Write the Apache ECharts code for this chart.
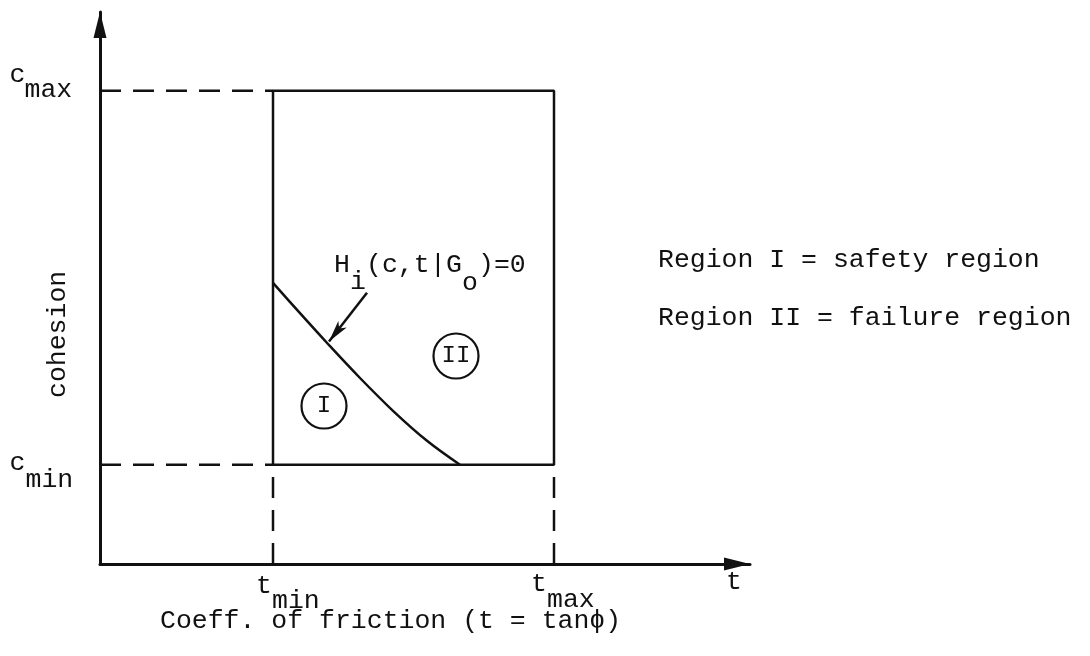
<!DOCTYPE html>
<html>
<head>
<meta charset="utf-8">
<script src="https://cdn.jsdelivr.net/npm/echarts@6/dist/echarts.min.js"></script>
<style>
  html, body { margin: 0; padding: 0; background: #fff; }
  #chart { width: 1090px; height: 656px; }
</style>
</head>
<body>
<div id="chart"></div>
<script>
// Bounds of the parameter box
const tBounds = [0.346, 0.908];   // t_min, t_max
const cBounds = [0.248, 1.183];   // c_min, c_max
const axisMax = [1.30, 1.38];     // extent of the t and c axes

// Limit-state curve H_i(c,t|G_o)=0
const curveT = [0.346, 0.400, 0.456, 0.520, 0.586, 0.654, 0.720];
const curveC = [0.703, 0.627, 0.550, 0.465, 0.383, 0.308, 0.248];

// Leader arrow from the curve label to the curve
const pointerT = [0.534, 0.458];
const pointerC = [0.678, 0.556];

// Circled region markers
const regionNames = ['I', 'II'];
const regionT = [0.448, 0.712];
const regionC = [0.395, 0.520];

// Text
const axisTitles = ['t', 'cohesion', 'Coeff. of friction (t = tan\u03D5)'];
const boundLabels = [['c', 'max'], ['c', 'min'], ['t', 'min'], ['t', 'max']];
const curveLabel = ['H', 'i', '(c,t', '|', 'G', 'o', ')=0'];
const legendLines = ['Region I = safety region', 'Region II = failure region'];

const INK = '#111';
const FONT = '"Liberation Mono", "DejaVu Sans Mono", monospace';
const FS = 26.5;

const chart = echarts.init(document.getElementById('chart'), null, { renderer: 'canvas' });

const box = [
  [tBounds[0], cBounds[0]], [tBounds[1], cBounds[0]],
  [tBounds[1], cBounds[1]], [tBounds[0], cBounds[1]], [tBounds[0], cBounds[0]]
];
const guides = [
  [[0, cBounds[1]], [tBounds[0], cBounds[1]]],
  [[0, cBounds[0]], [tBounds[0], cBounds[0]]],
  [[tBounds[0], 0], [tBounds[0], cBounds[0]]],
  [[tBounds[1], 0], [tBounds[1], cBounds[0]]]
];

function axisCfg(max) {
  return {
    type: 'value', min: 0, max: max,
    axisLine: {
      show: true, onZero: false,
      symbol: ['none', 'triangle'], symbolSize: [13, 26], symbolOffset: [0, -13],
      lineStyle: { color: INK, width: 3 }
    },
    axisTick: { show: false }, axisLabel: { show: false }, splitLine: { show: false }
  };
}

const series = [];
guides.forEach(function (seg) {
  series.push({
    type: 'line', data: seg, symbol: 'none', silent: true, z: 2,
    lineStyle: { color: INK, width: 2.5, type: [21, 12] }
  });
});
series.push({
  type: 'line', data: box, symbol: 'none', silent: true, z: 3,
  lineStyle: { color: INK, width: 2.5 }
});
series.push({
  type: 'line', symbol: 'none', silent: true, z: 3, smooth: 0.35,
  data: curveT.map(function (t, i) { return [t, curveC[i]]; }),
  lineStyle: { color: INK, width: 2.5 },
  markLine: {
    silent: true, animation: false,
    symbol: ['none', 'arrow'], symbolSize: [8, 22],
    label: { show: false },
    lineStyle: { color: INK, width: 2.5, type: 'solid' },
    data: [[{ coord: [pointerT[0], pointerC[0]] }, { coord: [pointerT[1], pointerC[1]] }]]
  }
});
series.push({
  type: 'scatter', silent: true, z: 4,
  symbol: 'circle', symbolSize: 45,
  itemStyle: { color: '#fff', borderColor: INK, borderWidth: 2.2, opacity: 1 },
  label: {
    show: true, position: 'inside', color: INK,
    fontFamily: FONT, fontSize: 24,
    formatter: function (p) { return p.data[2]; }
  },
  data: regionNames.map(function (n, i) { return [regionT[i], regionC[i], n]; })
});

chart.setOption({
  animation: false,
  backgroundColor: '#fff',
  grid: { left: 100, right: 340, top: 12, bottom: 92 },
  xAxis: axisCfg(axisMax[0]),
  yAxis: axisCfg(axisMax[1]),
  series: series
});

function px(t, c) { return chart.convertToPixel({ gridIndex: 0 }, [t, c]); }
function text(x, y, s, extra) {
  const el = {
    type: 'text', x: x, y: y, silent: true, z: 10,
    style: {
      text: s, font: FS + 'px ' + FONT, fill: INK,
      textAlign: 'left', textVerticalAlign: 'middle',
      align: 'left', verticalAlign: 'middle'
    }
  };
  if (extra) {
    if (extra.align) {
      el.style.textAlign = extra.align; el.style.align = extra.align;
    }
    if (extra.rotation) el.rotation = extra.rotation;
  }
  return el;
}

const g = [];
const o = px(0, 0);
const pcMax = px(0, cBounds[1]);
const pcMin = px(0, cBounds[0]);
const ptMin = px(tBounds[0], 0);
const ptMax = px(tBounds[1], 0);
const pEnd = px(axisMax[0], 0);
const pCurve = px(curveT[0], curveC[0]);

// c_max, c_min beside the vertical axis
g.push(text(pcMax[0] - 90.5, pcMax[1] - 16, boundLabels[0][0]));
g.push(text(pcMax[0] - 75.5, pcMax[1] - 1, boundLabels[0][1]));
g.push(text(pcMin[0] - 90.5, pcMin[1] - 2, boundLabels[1][0]));
g.push(text(pcMin[0] - 74.5, pcMin[1] + 15, boundLabels[1][1]));
// t_min, t_max under the horizontal axis
g.push(text(ptMin[0] - 17, ptMin[1] + 22, boundLabels[2][0]));
g.push(text(ptMin[0] - 1, ptMin[1] + 37, boundLabels[2][1]));
g.push(text(ptMax[0] - 23, ptMax[1] + 20, boundLabels[3][0]));
g.push(text(ptMax[0] - 7, ptMax[1] + 36, boundLabels[3][1]));
// axis titles
g.push(text(pEnd[0] - 16, pEnd[1] + 18, axisTitles[0], { align: 'center' }));
g.push(text(o[0] - 42, o[1] - 166, axisTitles[1], { rotation: Math.PI / 2 }));
g.push(text(o[0] + 60, o[1] + 57, axisTitles[2]));

// curve label with subscripts, laid out on a monospace grid
const hx = pCurve[0] + 61, hy = pCurve[1] - 18;
const cw = 16;
g.push(text(hx, hy, curveLabel[0]));
g.push(text(hx + cw, hy + 17, curveLabel[1]));
g.push(text(hx + 2 * cw, hy, curveLabel[2]));
g.push(text(hx + 6 * cw, hy, curveLabel[3]));
g.push(text(hx + 7 * cw, hy, curveLabel[4]));
g.push(text(hx + 8 * cw, hy + 18, curveLabel[5]));
g.push(text(hx + 9 * cw, hy, curveLabel[6]));

// legend of regions
g.push(text(658, 260, legendLines[0]));
g.push(text(658, 318, legendLines[1]));

chart.setOption({ graphic: { elements: g } });
</script>
</body>
</html>
